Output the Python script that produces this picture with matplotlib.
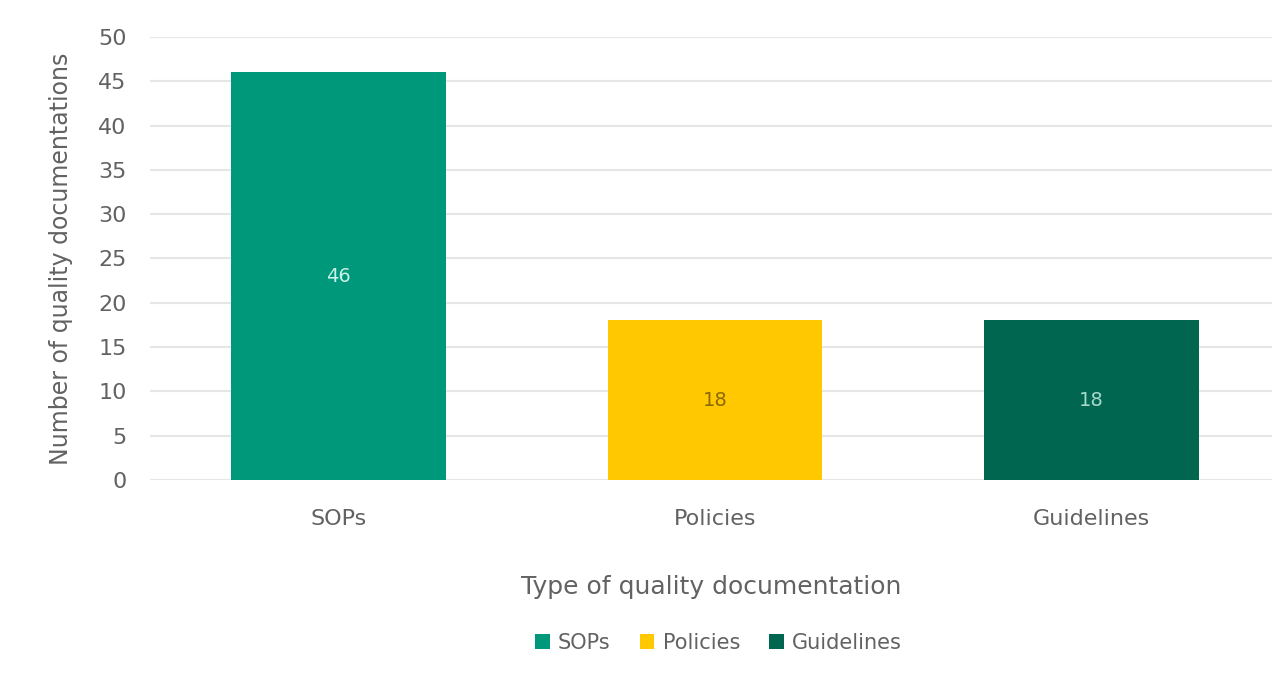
import matplotlib
matplotlib.use("Agg")
import matplotlib.pyplot as plt
from matplotlib.patches import Patch

plt.rcParams['font.family'] = ['DejaVu Sans']

categories = ["SOPs", "Policies", "Guidelines"]
counts = [46, 18, 18]
bar_colors = ["#00987a", "#ffc800", "#00664f"]
label_colors = ["#c8f2e6", "#8a6a00", "#a8d8cc"]
y_ticks = list(range(0, 51, 5))

fig = plt.figure(figsize=(12.72, 6.74), dpi=100)
ax = fig.add_axes([0.118, 0.288, 0.882, 0.657])

x = range(len(categories))
bars = ax.bar(x, counts, width=0.57, color=bar_colors, zorder=2)
for rect, val, lc in zip(bars, counts, label_colors):
    ax.text(rect.get_x() + rect.get_width() / 2, val / 2, str(val),
            ha="center", va="center", fontsize=14, color=lc, zorder=3)

ax.set_ylim(0, 50)
ax.set_xlim(-0.5, 2.48)
ax.set_yticks(y_ticks)
ax.set_xticks(list(x))
ax.set_xticklabels(categories)
ax.yaxis.grid(True, color="#e6e6e6", linewidth=1.5, zorder=0)
ax.set_axisbelow(True)
for s in ax.spines.values():
    s.set_visible(False)
ax.tick_params(axis="both", length=0, labelsize=16, labelcolor="#626262")
ax.tick_params(axis="x", pad=21)
ax.tick_params(axis="y", pad=17)

ax.set_ylabel("Number of quality documentations", fontsize=17, color="#626262", labelpad=18)
ax.set_xlabel("Type of quality documentation", fontsize=18, color="#626262", labelpad=33)

handles = [Patch(facecolor=c, label=l) for c, l in zip(bar_colors, categories)]
fig.legend(handles=handles, loc="center", bbox_to_anchor=(0.565, 0.046), ncol=3,
           frameon=False, fontsize=15, labelcolor="#626262",
           handlelength=0.7, handleheight=0.7, handletextpad=0.4, columnspacing=1.4)

fig.savefig("out.png", dpi=100, facecolor="white")
